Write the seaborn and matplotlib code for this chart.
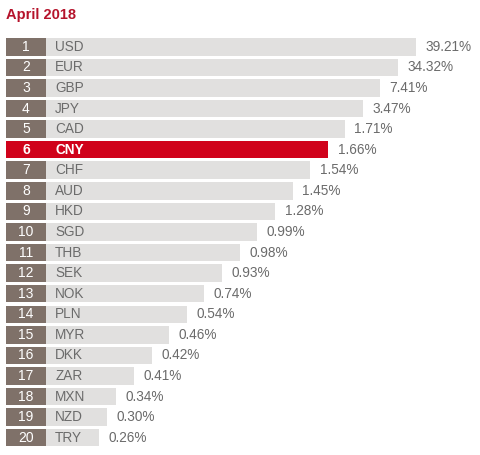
import pandas as pd
import seaborn as sns
import matplotlib.pyplot as plt

sns.set_style("white")
plt.rcParams['font.family'] = ['Liberation Sans', 'DejaVu Sans']

# Currency ranking, April 2018 (share of global payments)
ranks = list(range(1, 21))
currencies = ["USD", "EUR", "GBP", "JPY", "CAD", "CNY", "CHF", "AUD", "HKD", "SGD",
              "THB", "SEK", "NOK", "PLN", "MYR", "DKK", "ZAR", "MXN", "NZD", "TRY"]
shares = [39.21, 34.32, 7.41, 3.47, 1.71, 1.66, 1.54, 1.45, 1.28, 0.99,
          0.98, 0.93, 0.74, 0.54, 0.46, 0.42, 0.41, 0.34, 0.30, 0.26]
# bar lengths in the original are not proportional to share; index (USD = 100)
bar_index = [100, 95.7, 91.3, 87.1, 82.7, 78.6, 74.2, 70.0, 65.7, 61.3,
             57.1, 52.7, 48.3, 44.1, 39.8, 35.6, 31.2, 26.8, 24.6, 22.7]

df = pd.DataFrame({"rank": ranks, "currency": currencies,
                   "share": shares, "bar": bar_index})
df["row"] = df["rank"].astype(str)
df["box"] = 9.76  # width of the dark rank box

gray_bar = "#e1e0df"
gray_box = "#7f7169"
red = "#d0021b"
highlight = "CNY"

fig = plt.figure(figsize=(4.81, 4.55), dpi=100)
ax = fig.add_axes([6 / 481, 7.0 / 455, 475 / 481, 411.5 / 455])

bar_colors = [red if c == highlight else gray_bar for c in df["currency"]]
box_colors = [red if c == highlight else gray_box for c in df["currency"]]

sns.barplot(data=df, x="bar", y="row", hue="row", palette=bar_colors,
            legend=False, width=0.85, ax=ax, saturation=1, linewidth=0)
sns.barplot(data=df, x="box", y="row", hue="row", palette=box_colors,
            legend=False, width=0.85, ax=ax, saturation=1, linewidth=0)

for i, r in df.iterrows():
    hl = r["currency"] == highlight
    ax.text(4.88, i, str(r["rank"]), ha="center", va="center",
            color="white", fontsize=10, fontweight="bold" if hl else "normal")
    ax.text(12.0, i, r["currency"], ha="left", va="center",
            color="white" if hl else "#6b6b6b", fontsize=9.8,
            fontweight="bold" if hl else "normal")
    ax.text(r["bar"] + 2.3, i, f"{r['share']:.2f}%", ha="left", va="center",
            color="#6b6b6b", fontsize=9.8)

ax.set_xlim(0, 115.9)
ax.set_xlabel("")
ax.set_ylabel("")
ax.set_xticks([])
ax.set_yticks([])
sns.despine(ax=ax, left=True, bottom=True)

fig.text(6 / 481, 1 - 14.5 / 455, "April 2018", ha="left", va="center",
         color="#b5132b", fontsize=10.5, fontweight="bold")

fig.savefig("out.png", dpi=100)
